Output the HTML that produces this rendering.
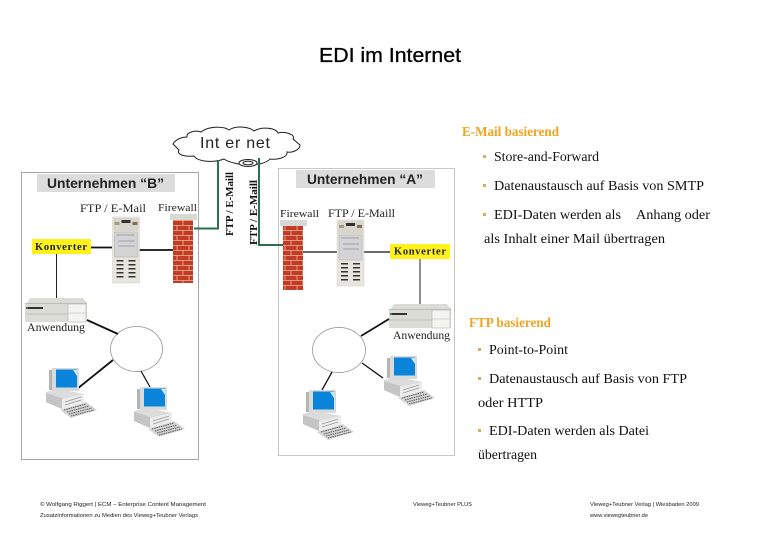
<!DOCTYPE html>
<html>
<head>
<meta charset="utf-8">
<style>
html,body{margin:0;padding:0;background:#fff;width:780px;height:540px;overflow:hidden}
svg{display:block}
.s{font-family:"Liberation Sans",sans-serif}
.f{font-family:"Liberation Serif",serif}
.t{font-family:"Liberation Serif",serif;font-size:13.5px;fill:#111}
.h{font-family:"Liberation Serif",serif;font-size:14px;font-weight:bold;fill:#f2a31f}
.b{fill:#d8aa62}
.x{font-family:"Liberation Sans",sans-serif;font-size:5.5px;fill:#222}
</style>
</head>
<body>
<svg width="780" height="540" viewBox="0 0 780 540" xmlns="http://www.w3.org/2000/svg">
<defs>
<pattern id="br" width="12" height="10" patternUnits="userSpaceOnUse">
<rect width="12" height="10" fill="#c23a28"/>
<path d="M0 .5H12M0 5.500H12M3 0V5M9 5V10" stroke="#eeb98c" stroke-width=".8"/>
</pattern>
<g id="tower">
<rect width="27" height="66" fill="#e6e6df" stroke="#cfcfc8" stroke-width=".5"/>
<rect x="1" y="1" width="25" height="13" fill="#d8d6cc"/>
<rect x="9" y="3" width="9" height="3" fill="#333"/>
<rect x="20" y="5" width="5" height="3" fill="#8a6a50"/>
<rect x="2" y="5" width="5" height="3" fill="#a89a80"/>
<rect x="2" y="15" width="23" height="25" fill="#d4d4d6" stroke="#aaa" stroke-width=".5"/>
<path d="M4 18H22M6 24H22M6 29H22" stroke="#8f8f8f" stroke-width=".7"/>
<g fill="#333"><rect x="4" y="43" width="7" height="1.500"/><rect x="16" y="43" width="7" height="1.500"/><rect x="4" y="47" width="7" height="1.500"/><rect x="16" y="47" width="7" height="1.500"/><rect x="4" y="51" width="7" height="1.500"/><rect x="16" y="51" width="7" height="1.500"/><rect x="4" y="55" width="7" height="1.500"/><rect x="16" y="55" width="7" height="1.500"/><rect x="4" y="59" width="7" height="1.500"/><rect x="16" y="59" width="7" height="1.500"/></g>
</g>
<g id="router">
<path d="M2 5 L5 0 H58 L62 5 V24 H0 V5Z" fill="#dcdcd6"/>
<rect x="0" y="5" width="62" height="1" fill="#bdbdb8"/>
<rect x="43" y="6" width="18" height="18" fill="#f4f4f0" stroke="#b5b5b0" stroke-width=".6"/>
<path d="M43 15H61" stroke="#b5b5b0" stroke-width=".6"/>
<rect x="3" y="9" width="15" height="2" fill="#333"/>
<rect x="1" y="9" width="2" height="2" fill="#3a7a50"/>
<path d="M0 16H43" stroke="#c0c0ba"/>
</g>
<g id="pc">
<path d="M1 24 L14 21 L39 26 V34 L17 41 L1 34Z" fill="#dcdcdc"/>
<path d="M1 25 L17 30 V41 L1 34Z" fill="#c4c4c4"/>
<path d="M17 31 L39 26 V34 L17 41Z" fill="#ececec"/>
<path d="M20 34 L36 29 M20 37 L36 32" stroke="#999" stroke-width=".7"/>
<rect x="4" y="2" width="4" height="20" fill="#b4b4b4"/>
<rect x="7" y="0" width="27" height="23" fill="#dadada"/>
<rect x="11" y="1.500" width="21" height="18" fill="#0a84d8"/>
<path d="M28 2 L32 2 V8Z" fill="#cfe8f8"/>
<path d="M15 42 L41 34 L52 42 L26 50Z" fill="#d5d5d5"/>
<path d="M19 42 L41 36 M22 44 L44 38 M24 46 L47 40 M26 48 L49 42" stroke="#555" stroke-width="1" stroke-dasharray="1.500 .8"/>
</g>
</defs>

<text class="s" x="319" y="62" font-size="20" textLength="142" lengthAdjust="spacingAndGlyphs" fill="#000" stroke="#000" stroke-width=".3">EDI im Internet</text>

<!-- boxes -->
<rect x="21.500" y="172.500" width="177" height="287" fill="#fff" stroke="#a6a6a6" stroke-width="1"/>
<rect x="278.500" y="168.500" width="176" height="287" fill="#fff" stroke="#c8c8c8" stroke-width="1"/>
<rect x="37" y="174" width="138" height="18" fill="#dcdcdc"/>
<rect x="296" y="170" width="139" height="18" fill="#dcdcdc"/>
<text class="s" x="47" y="188" font-size="13.500" font-weight="bold" fill="#222" textLength="117" lengthAdjust="spacingAndGlyphs">Unternehmen “B”</text>
<text class="s" x="307" y="184" font-size="13.500" font-weight="bold" fill="#222" textLength="116" lengthAdjust="spacingAndGlyphs">Unternehmen “A”</text>

<!-- cloud -->
<path d="M173 144 C176 139 182 137 187 137 C186 132 196 130 201 132 C208 126 224 126 229 130 C236 125 250 127 254 131 C262 126 276 128 278 133 C286 131 296 135 293 139 L300 145 C300 150 292 153 287 152 C288 158 276 160 270 159 C266 164 254 165 248 165 C240 165 228 162 224 159 C214 163 198 162 194 156 C186 157 176 155 179 150Z" fill="#fff" stroke="#222" stroke-width="1"/>
<ellipse cx="248" cy="163" rx="9" ry="3.500" fill="#fff" stroke="#222" stroke-width="1"/>
<ellipse cx="248" cy="163" rx="5" ry="1.800" fill="#fff" stroke="#222" stroke-width="1"/>
<text class="s" x="200" y="148" font-size="16" fill="#222" textLength="70" lengthAdjust="spacing">Int er net</text>

<!-- green links -->
<path d="M194 228.500H218V160" fill="none" stroke="#2b6f4c" stroke-width="2"/>
<path d="M283 245H259V158" fill="none" stroke="#2b6f4c" stroke-width="2"/>
<text class="f" transform="translate(233,236) rotate(-90)" font-size="11" font-weight="bold" fill="#111" textLength="64" lengthAdjust="spacingAndGlyphs">FTP / E-Maill</text>
<text class="f" transform="translate(257,245) rotate(-90)" font-size="11" font-weight="bold" fill="#111" textLength="65" lengthAdjust="spacingAndGlyphs">FTP / E-Maill</text>

<!-- B site -->
<text class="f" x="80" y="212" font-size="11.500" fill="#222" textLength="66" lengthAdjust="spacingAndGlyphs">FTP / E-Mail</text>
<text class="f" x="158" y="211" font-size="11" fill="#222" textLength="39" lengthAdjust="spacingAndGlyphs">Firewall</text>
<path d="M91 247.500H112M139 250H173" stroke="#111" stroke-width="1.800"/>
<path d="M56.500 254V299" stroke="#222" stroke-width="1"/>
<use href="#tower" x="112.500" y="217"/>
<rect x="170" y="214" width="27" height="6" fill="#d8d8d4"/>
<rect x="173" y="220" width="20" height="63" fill="url(#br)"/>
<rect x="32" y="239" width="59" height="15" fill="#fff21a"/>
<text class="f" x="35" y="250" font-size="10.500" font-weight="bold" fill="#222" textLength="52" lengthAdjust="spacing">Konverter</text>
<use href="#router" x="25" y="298"/>
<text class="f" x="27" y="331" font-size="12" fill="#222" textLength="58" lengthAdjust="spacingAndGlyphs">Anwendung</text>
<ellipse cx="136.500" cy="349" rx="26" ry="22.500" fill="#fff" stroke="#888" stroke-width=".7"/>
<path d="M87 320L118 334M113 360L77 389" stroke="#111" stroke-width="1.800"/>
<path d="M141 371L150 387" stroke="#111" stroke-width="1.200"/>
<use href="#pc" x="45" y="368"/>
<use href="#pc" x="133" y="387"/>

<!-- A site -->
<text class="f" x="280" y="217" font-size="11" fill="#222" textLength="39" lengthAdjust="spacingAndGlyphs">Firewall</text>
<text class="f" x="328" y="217" font-size="11.500" fill="#222" textLength="67" lengthAdjust="spacingAndGlyphs">FTP / E-Maill</text>
<path d="M303 252H337M364 252H390" stroke="#111" stroke-width="1.200"/>
<path d="M420 258V304" stroke="#222" stroke-width="1"/>
<use href="#tower" x="337" y="220"/>
<rect x="280" y="220" width="27" height="6" fill="#d8d8d4"/>
<rect x="283" y="226" width="20" height="64" fill="url(#br)"/>
<rect x="390" y="244" width="60" height="15" fill="#fff21a"/>
<text class="f" x="394" y="254.500" font-size="10.500" font-weight="bold" fill="#222" textLength="52" lengthAdjust="spacing">Konverter</text>
<use href="#router" x="389" y="304"/>
<text class="f" x="393" y="339" font-size="12" fill="#222" textLength="57" lengthAdjust="spacingAndGlyphs">Anwendung</text>
<ellipse cx="339" cy="350" rx="26.500" ry="22.500" fill="#fff" stroke="#888" stroke-width=".7"/>
<path d="M361 336L389 319" stroke="#111" stroke-width="1.800"/>
<path d="M362 363L383 378M332 372L322 390" stroke="#111" stroke-width="1.300"/>
<use href="#pc" x="383" y="356"/>
<use href="#pc" x="302" y="390"/>

<!-- right text -->
<text class="h" x="462" y="136" textLength="97" lengthAdjust="spacingAndGlyphs">E-Mail basierend</text>
<rect class="b" x="483" y="155" width="3" height="3"/>
<text class="t" x="494" y="161" textLength="105" lengthAdjust="spacingAndGlyphs">Store-and-Forward</text>
<rect class="b" x="483" y="184" width="3" height="3"/>
<text class="t" x="494" y="190" textLength="210" lengthAdjust="spacingAndGlyphs">Datenaustausch auf Basis von SMTP</text>
<rect class="b" x="483" y="213" width="3" height="3"/>
<text class="t" x="494" y="219" textLength="127" lengthAdjust="spacingAndGlyphs">EDI-Daten werden als</text>
<text class="t" x="636" y="219" textLength="74" lengthAdjust="spacingAndGlyphs">Anhang oder</text>
<text class="t" x="484" y="243" textLength="181" lengthAdjust="spacingAndGlyphs">als Inhalt einer Mail übertragen</text>

<text class="h" x="469" y="327" textLength="82" lengthAdjust="spacingAndGlyphs">FTP basierend</text>
<rect class="b" x="478" y="348" width="3" height="3"/>
<text class="t" x="489" y="354" textLength="79" lengthAdjust="spacingAndGlyphs">Point-to-Point</text>
<rect class="b" x="478" y="377" width="3" height="3"/>
<text class="t" x="489" y="383" textLength="198" lengthAdjust="spacingAndGlyphs">Datenaustausch auf Basis von FTP</text>
<text class="t" x="478" y="407" textLength="65" lengthAdjust="spacingAndGlyphs">oder HTTP</text>
<rect class="b" x="478" y="429" width="3" height="3"/>
<text class="t" x="489" y="435" textLength="160" lengthAdjust="spacingAndGlyphs">EDI-Daten werden als Datei</text>
<text class="t" x="478" y="459" textLength="59" lengthAdjust="spacingAndGlyphs">übertragen</text>

<!-- footer -->
<text class="x" x="40" y="506" textLength="166" lengthAdjust="spacingAndGlyphs">© Wolfgang Riggert | ECM – Enterprise Content Management</text>
<text class="x" x="40" y="517" textLength="158" lengthAdjust="spacingAndGlyphs">Zusatzinformationen zu Medien des Vieweg+Teubner Verlags</text>
<text class="x" x="413" y="506" textLength="59" lengthAdjust="spacingAndGlyphs">Vieweg+Teubner PLUS</text>
<text class="x" x="590" y="506" textLength="109" lengthAdjust="spacingAndGlyphs">Vieweg+Teubner Verlag | Wiesbaden 2009</text>
<text class="x" x="590" y="517" textLength="58" lengthAdjust="spacingAndGlyphs">www.viewegteubner.de</text>
</svg>
</body>
</html>
